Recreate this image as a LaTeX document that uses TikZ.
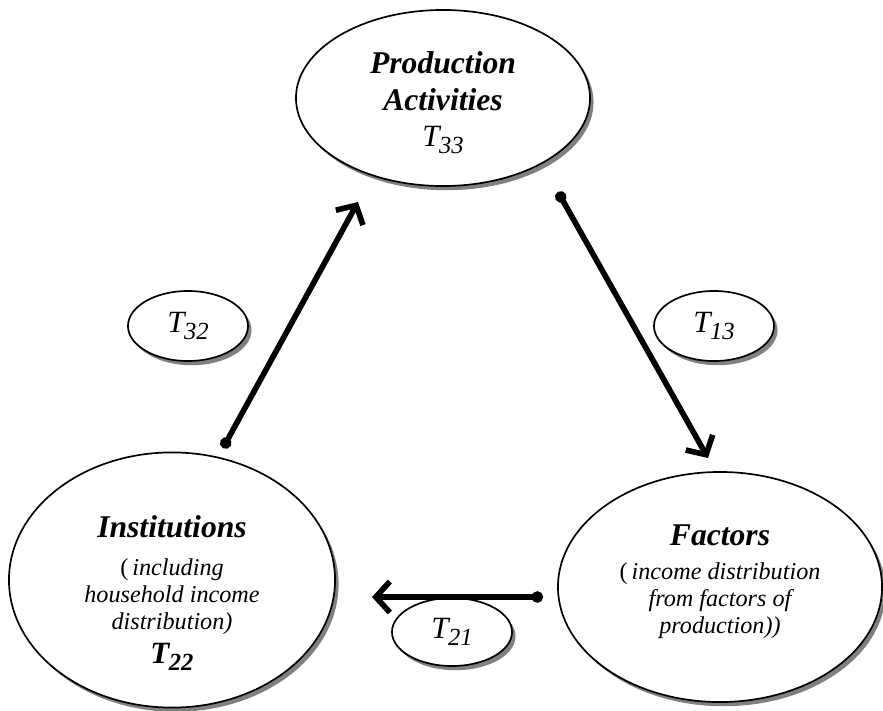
\documentclass[tikz,border=0pt]{standalone}
\usepackage{fontspec}
\setmainfont{Liberation Serif}
\usetikzlibrary{shapes.geometric,shadows,arrows.meta,positioning}

\newcommand{\tlab}[1]{\textit{T\kern-.3pt\lower4.5pt\hbox{\fontsize{17.5}{18}\selectfont\itshape #1}}}

\tikzset{
    %Define style for the big ellipses
    sector/.style={
           ellipse,
           draw,
           line width=1.2pt,
           fill=white,
           inner sep=0pt,
           align=center,
           drop shadow={shadow xshift=2.5pt, shadow yshift=-3pt, fill=black!50, opacity=1}},
    %Define style for the small flow ellipses
    flow/.style={
           sector,
           minimum width=3cm,
           minimum height=1.75cm,
           font=\fontsize{22}{24}\selectfont},
    titel/.style={font=\fontsize{22.5}{25.6}\selectfont\bfseries\itshape},
    % Define arrow style
    pil/.style={
           {Circle[length=8pt]}-{Straight Barb[length=10pt,width=22pt]},
           line width=4pt}
}

\begin{document}
\begin{tikzpicture}[x=0.025cm, y=-0.025cm]
 \useasboundingbox (0,0) rectangle (883,711);

 % accounts
 \node [sector, titel, minimum width=7.35cm, minimum height=4.4cm] (prod) at (443,98)
 {\rule{0pt}{22pt}Production\\[1pt]Activities\\[0pt]{\mdseries\fontsize{22}{24}\selectfont\tlab{33}}};
 \node [sector, minimum width=8.15cm, minimum height=6.1cm,
   font=\fontsize{17.2}{19.2}\selectfont\itshape] (inst) at (172,580)
 {\rule{0pt}{34pt}{\fontsize{22.5}{25.6}\selectfont\bfseries Institutions}\\[8pt]
   {\upshape(}\,including\\household income\\distribution)\\[5pt]
   {\bfseries\fontsize{22}{24}\selectfont\tlab{22}}};
 \node [sector, minimum width=8.1cm, minimum height=5.75cm,
   font=\fontsize{17.2}{19.2}\selectfont\itshape] (fact) at (720,587)
 {\rule{0pt}{20pt}{\fontsize{22.5}{25.6}\selectfont\bfseries Factors}\\[5pt]
   {\upshape(}\,income distribution\\from factors of\\production))\rule[-16pt]{0pt}{1pt}};

 % flows
 \node [flow] (t32) at (188,326) {\tlab{32}};
 \node [flow] (t13) at (714,326) {\tlab{13}};
 \node [flow, minimum height=1.7cm] (t21) at (452,632) {\tlab{21}};

 % arrow ends
 \coordinate (instout) at (223,448);
 \coordinate (prodin) at (358,202);
 \coordinate (prodout) at (558,192);
 \coordinate (factin) at (708,458);
 \coordinate (factout) at (543,597);
 \coordinate (instin) at (372,597);

 % paths
 \draw [pil] (instout) -- (prodin);
 \draw [pil] (prodout) -- (factin);
 \draw [pil] (factout) -- (instin);
\end{tikzpicture}
\end{document}
